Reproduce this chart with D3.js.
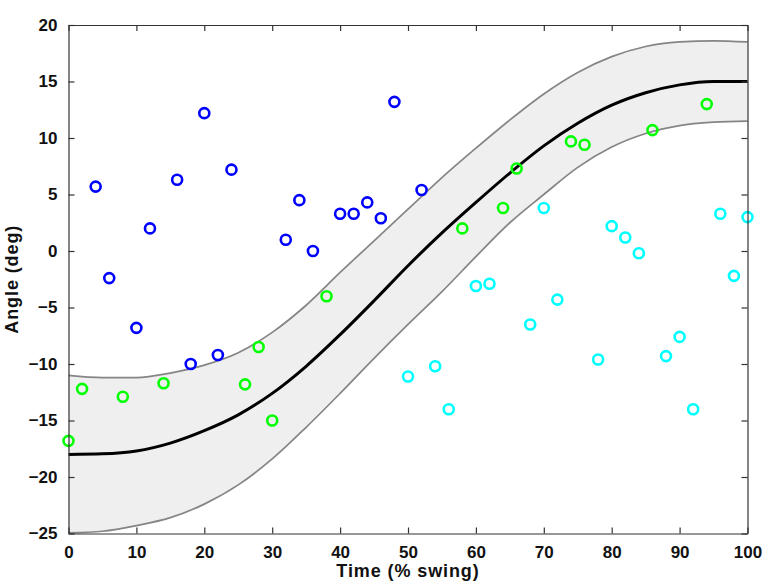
<!DOCTYPE html>
<html>
<head>
<meta charset="utf-8">
<script src="https://cdn.jsdelivr.net/npm/d3@7"></script>
<style>
  html, body { margin: 0; padding: 0; background: #fff; }
  svg text { font-family: "Liberation Sans", Arial, sans-serif; font-weight: bold; fill: #111; }
</style>
</head>
<body>
<svg id="chart" width="768" height="586"></svg>
<script>
// ---- data ----
const pointX = [0,2,4,6,8,10,12,14,16,18,20,22,24,26,28,30,32,34,36,38,40,42,44,46,48,50,
                52,54,56,58,60,62,64,66,68,70,72,74,76,78,80,82,84,86,88,90,92,94,96,98,100];
const pointY = [-16.8,-12.2,5.7,-2.4,-12.9,-6.8,2.0,-11.7,6.3,-10.0,12.2,-9.2,7.2,-11.8,-8.5,-15.0,1.0,4.5,0.0,-4.0,3.3,3.3,4.3,2.9,13.2,-11.1,
                5.4,-10.2,-14.0,2.0,-3.1,-2.9,3.8,7.3,-6.5,3.8,-4.3,9.7,9.4,-9.6,2.2,1.2,-0.2,10.7,-9.3,-7.6,-14.0,13.0,3.3,-2.2,3.0];
const pointGroup = ["g","g","b","b","g","b","b","g","b","b","b","b","b","g","g","g","b","b","b","g","b","b","b","b","b","c",
                    "b","c","c","g","c","c","g","g","c","c","c","g","g","c","c","c","c","g","c","c","c","g","c","c","c"];
const groupColors = { b: "#0000ff", g: "#00ff00", c: "#00ffff" };

const curveX  = [0,5,10,15,20,25,30,35,40,45,50,55,60,65,70,75,80,85,90,95,100];
const meanY   = [-18.0,-17.95,-17.7,-17.0,-15.9,-14.5,-12.6,-10.2,-7.4,-4.4,-1.3,1.6,4.3,6.9,9.3,11.3,12.9,14.0,14.7,15.0,15.0];
const upperY  = [-11.0,-11.2,-11.2,-10.8,-10.1,-9.0,-7.2,-4.8,-1.9,0.9,3.7,6.5,9.1,11.6,13.9,15.8,17.2,18.1,18.5,18.6,18.5];
const lowerY  = [-24.95,-24.8,-24.3,-23.6,-22.4,-20.7,-18.4,-15.6,-12.6,-9.5,-6.5,-3.6,-0.5,2.5,5.0,7.4,9.2,10.4,11.1,11.4,11.5];

const xTicks = [0,10,20,30,40,50,60,70,80,90,100];
const yTicks = [-25,-20,-15,-10,-5,0,5,10,15,20];
const xLabel = "Time (% swing)";
const yLabel = "Angle (deg)";

// ---- layout ----
const svg = d3.select("#chart");
const L = 68.5, R = 747.5, T = 25, B = 533.5;
const x = d3.scaleLinear().domain([0, 100]).range([L, R]);
const y = d3.scaleLinear().domain([-25, 20]).range([B, T]);

const curve = d3.curveMonotoneX;
const band = curveX.map((d, i) => ({ x: d, lo: lowerY[i], hi: upperY[i], m: meanY[i] }));

svg.append("path").datum(band)
  .attr("d", d3.area().x(d => x(d.x)).y0(d => y(d.lo)).y1(d => y(d.hi)).curve(curve))
  .attr("fill", "#efefef");

const line = key => d3.line().x(d => x(d.x)).y(d => y(d[key])).curve(curve);
svg.append("path").datum(band).attr("d", line("hi"))
  .attr("fill", "none").attr("stroke", "#858585").attr("stroke-width", 1.7);
svg.append("path").datum(band).attr("d", line("lo"))
  .attr("fill", "none").attr("stroke", "#858585").attr("stroke-width", 1.7);
svg.append("path").datum(band).attr("d", line("m"))
  .attr("fill", "none").attr("stroke", "#000").attr("stroke-width", 3);

// points
svg.append("g").selectAll("circle")
  .data(pointX.map((d, i) => ({ x: d, y: pointY[i], g: pointGroup[i] })))
  .join("circle")
  .attr("cx", d => x(d.x)).attr("cy", d => y(d.y)).attr("r", 5)
  .attr("fill", "none").attr("stroke", d => groupColors[d.g]).attr("stroke-width", 2.6);

// axes (box with inward ticks on all sides)
const axisColor = "#333";
const fmt = d => d3.format("d")(d);
const gB = svg.append("g").attr("transform", `translate(0,${B})`)
  .call(d3.axisBottom(x).tickValues(xTicks).tickSizeInner(-6).tickSizeOuter(0).tickPadding(12).tickFormat(fmt));
const gT = svg.append("g").attr("transform", `translate(0,${T})`)
  .call(d3.axisTop(x).tickValues(xTicks).tickSizeInner(-6).tickSizeOuter(0).tickFormat(""));
const gL = svg.append("g").attr("transform", `translate(${L},0)`)
  .call(d3.axisLeft(y).tickValues(yTicks).tickSizeInner(-6).tickSizeOuter(0).tickPadding(11).tickFormat(fmt));
const gR = svg.append("g").attr("transform", `translate(${R},0)`)
  .call(d3.axisRight(y).tickValues(yTicks).tickSizeInner(-6).tickSizeOuter(0).tickFormat(""));
[gB, gT, gL, gR].forEach(g => {
  g.selectAll("path.domain").attr("stroke", axisColor).attr("stroke-width", 1.2);
  g.selectAll(".tick line").attr("stroke", axisColor).attr("stroke-width", 1.2);
  g.selectAll("text").attr("font-size", 17).attr("font-family", "Liberation Sans, Arial, sans-serif")
    .attr("font-weight", "bold").attr("fill", "#111");
});

// axis titles
svg.append("text").attr("x", 408).attr("y", 577).attr("text-anchor", "middle")
  .attr("font-size", 18).attr("letter-spacing", "0.9px").text(xLabel);
svg.append("text").attr("transform", `translate(18,${(T + B) / 2}) rotate(-90)`)
  .attr("text-anchor", "middle").attr("font-size", 18).attr("letter-spacing", "0.9px").text(yLabel);
</script>
</body>
</html>
